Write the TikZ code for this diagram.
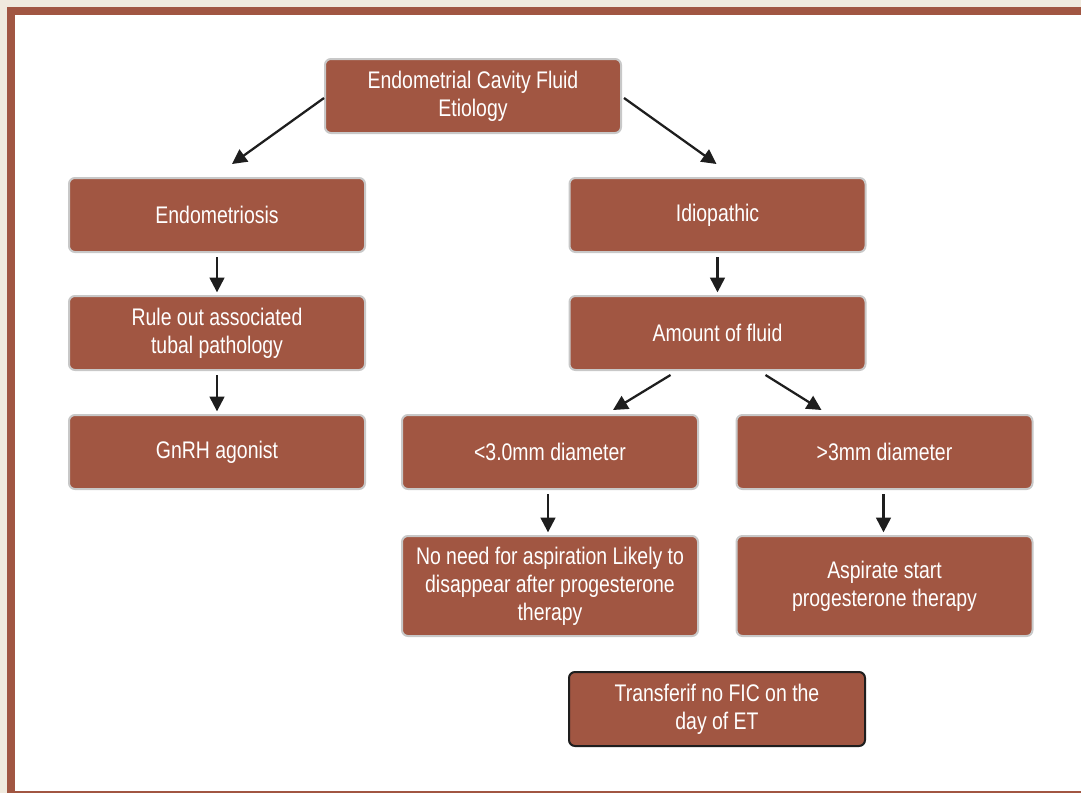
\documentclass[tikz,border=0pt]{standalone}
\usepackage{fontspec}
\setmainfont{Liberation Sans}[FakeStretch=0.81]
\usetikzlibrary{arrows.meta,calc}
\definecolor{rust}{RGB}{161,86,66}
\definecolor{parch}{RGB}{240,234,222}
\definecolor{edge}{RGB}{200,200,200}
\definecolor{ink}{RGB}{30,30,30}
\begin{document}
\begin{tikzpicture}[x=0.75pt,y=-0.75pt,
  box/.style={draw=edge, line width=1.5pt, fill=rust, rounded corners=4.5pt,
    minimum width=222pt, minimum height=55.5pt, align=center, inner sep=2pt,
    text=white, font=\fontsize{18}{21}\selectfont},
  tallbox/.style={box, minimum height=75pt},
  darkbox/.style={box, draw=ink},
  arr/.style={draw=ink, line width=1.7pt, -{Triangle[length=11pt,width=11pt]}},
  varr/.style={arr, shorten <=3pt, shorten >=2pt}]
% page, frame and panel
\fill[parch] (0,0) rectangle (1081,793);
\fill[rust] (7,7) rectangle (1081,793);
\fill[white] (15,15) rectangle (1081,791);
\useasboundingbox (0,0) rectangle (1081,793);

% boxes
\node[box] (top)  at (473,96)   {Endometrial Cavity Fluid\\Etiology};
\node[box] (endo) at (217,215)  {Endometriosis};
\node[box] (rule) at (217,333)  {Rule out associated\\tubal pathology};
\node[box] (gnrh) at (217,452)  {GnRH agonist};
\node[box] (idio) at (717.5,215){Idiopathic};
\node[box] (amt)  at (717.5,333){Amount of fluid};
\node[box] (lt)   at (550,452)  {<3.0mm diameter};
\node[box] (gt)   at (884.5,452){>3mm diameter};
\node[tallbox] (noasp) at (550,586)  {No need for aspiration Likely to\\disappear after progesterone\\therapy};
\node[tallbox] (asp)   at (884.5,586){Aspirate start\\progesterone therapy};
\node[darkbox] (trans) at (717,709)  {Transferif no FIC on the\\day of ET};

% connectors
\draw[arr] ($(top.west)+(0,2)$) -- ($(endo.north)+(15,-13)$);
\draw[arr] ($(top.east)+(2,2)$) -- ($(idio.north)+(-1,-13)$);
\draw[varr] (endo.south) -- (rule.north);
\draw[varr] (rule.south) -- (gnrh.north);
\draw[varr] (idio.south) -- (amt.north);
\draw[arr] ($(amt.south)+(-47,4)$) -- ($(lt.north)+(63,-4)$);
\draw[arr] ($(amt.south)+(48,4)$) -- ($(gt.north)+(-63,-4)$);
\draw[varr] ($(lt.south)+(-2,0)$) -- ($(noasp.north)+(-2,0)$);
\draw[varr] ($(gt.south)+(-1,0)$) -- ($(asp.north)+(-1,0)$);
\end{tikzpicture}
\end{document}
